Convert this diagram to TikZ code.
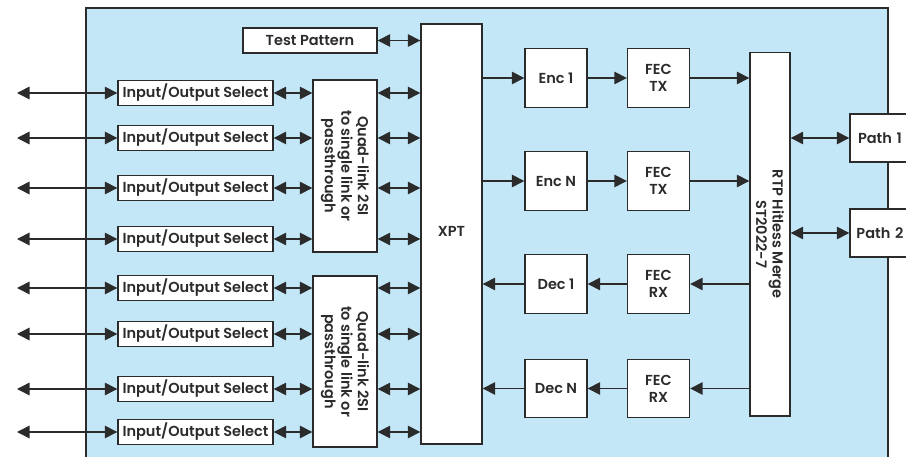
\documentclass[tikz,border=0pt]{standalone}
\usepackage{fontspec}
\setmainfont{Poppins}[BoldFont=* SemiBold]
\usetikzlibrary{arrows.meta}
\definecolor{bgblue}{HTML}{C4E7F7}
\definecolor{ink}{HTML}{2B2B2B}
\tikzset{
  blk/.style={draw=ink, line width=1.4pt, fill=white, inner sep=0pt, font=\bfseries\fontsize{14.5}{17}\selectfont, text=ink, align=center},
  iobox/.style={blk, minimum width=155pt, minimum height=25pt},
  sqbox/.style={blk, minimum width=62pt, minimum height=58.5pt},
  vlabel/.style={font=\bfseries\fontsize{14.5}{16.5}\selectfont, text=ink, align=center, rotate=-90},
  conn/.style={draw=ink, line width=1.5pt, -{Triangle[length=12.5pt,width=12.5pt]}},
  dconn/.style={draw=ink, line width=1.5pt, {Triangle[length=12.5pt,width=12.5pt]}-{Triangle[length=12.5pt,width=12.5pt]}},
}
\begin{document}
\begin{tikzpicture}[x=1pt,y=-1pt]
\useasboundingbox (0,0) rectangle (906,457);
% outer board
\path[fill=bgblue, draw=ink, line width=1.5pt] (86,8) rectangle (888,475);
% XPT
\node[blk, minimum width=61pt, minimum height=420pt] (xpt) at (451.5,234) {};
\node[font=\bfseries\fontsize{14.5}{17}\selectfont, text=ink] (xptl) at (451.5,231) {XPT};
% Test pattern
\node[blk, minimum width=134pt, minimum height=25pt] (test) at (310,40.5) {Test Pattern};
% IO select
\foreach \i/\y in {1/93,2/138,3/188,4/239,5/288,6/334,7/389,8/432}{
  \node[iobox] (io\i) at (195.5,\y) {Input/Output Select};
  \coordinate (l\i) at (17,\y);
}
% Quad boxes
\node[blk, minimum width=64pt, minimum height=172pt] (quad1) at (345,166) {};
\node[blk, minimum width=64pt, minimum height=171pt] (quad2) at (345,361.5) {};
\node[vlabel] (q1l) at (quad1.center) {Quad-link 2SI\\to single link or\\passthrough};
\node[vlabel] (q2l) at (quad2.center) {Quad-link 2SI\\to single link or\\passthrough};
% enc/dec
\node[sqbox] (enc1) at (556,78) {Enc 1};
\node[sqbox] (encn) at (556,181) {Enc N};
\node[sqbox] (dec1) at (556,284) {Dec 1};
\node[sqbox] (decn) at (556,388.5) {Dec N};
\node[sqbox] (fec1) at (658.5,78) {FEC\\TX};
\node[sqbox] (fec2) at (658.5,181) {FEC\\TX};
\node[sqbox] (fec3) at (658.5,284) {FEC\\RX};
\node[sqbox] (fec4) at (658.5,388.5) {FEC\\RX};
% RTP
\node[blk, minimum width=40pt, minimum height=363.5pt] (rtp) at (770,234.2) {};
\node[vlabel] (rtpl) at (rtp.center) {RTP Hitless Merge\\ST2022-7};
% paths
\node[blk, minimum width=60pt, minimum height=48pt, text width=60pt] (path1) at (880,138) {Path 1};
\node[blk, minimum width=60pt, minimum height=48pt, text width=60pt] (path2) at (880,233) {Path 2};
% connectors
\draw[dconn] (test.east) -- (xpt.west |- test.east);
\foreach \i/\q in {1/quad1,2/quad1,3/quad1,4/quad1,5/quad2,6/quad2,7/quad2,8/quad2}{
  \draw[dconn] (l\i) -- (io\i.west);
  \draw[dconn] (io\i.east) -- (io\i.east -| \q.west);
  \draw[dconn] (io\i.east -| \q.east) -- (io\i.east -| xpt.west);
}
\draw[conn] (xpt.east |- enc1) -- (enc1.west);
\draw[conn] (enc1.east) -- (fec1.west);
\draw[conn] (fec1.east) -- (rtp.west |- fec1);
\draw[conn] (xpt.east |- encn) -- (encn.west);
\draw[conn] (encn.east) -- (fec2.west);
\draw[conn] (fec2.east) -- (rtp.west |- fec2);
\draw[conn] (rtp.west |- fec3) -- (fec3.east);
\draw[conn] (fec3.west) -- (dec1.east);
\draw[conn] (dec1.west) -- (xpt.east |- dec1);
\draw[conn] (rtp.west |- fec4) -- (fec4.east);
\draw[conn] (fec4.west) -- (decn.east);
\draw[conn] (decn.west) -- (xpt.east |- decn);
\draw[dconn] (rtp.east |- path1) -- (path1.west);
\draw[dconn] (rtp.east |- path2) -- (path2.west);
\end{tikzpicture}
\end{document}
